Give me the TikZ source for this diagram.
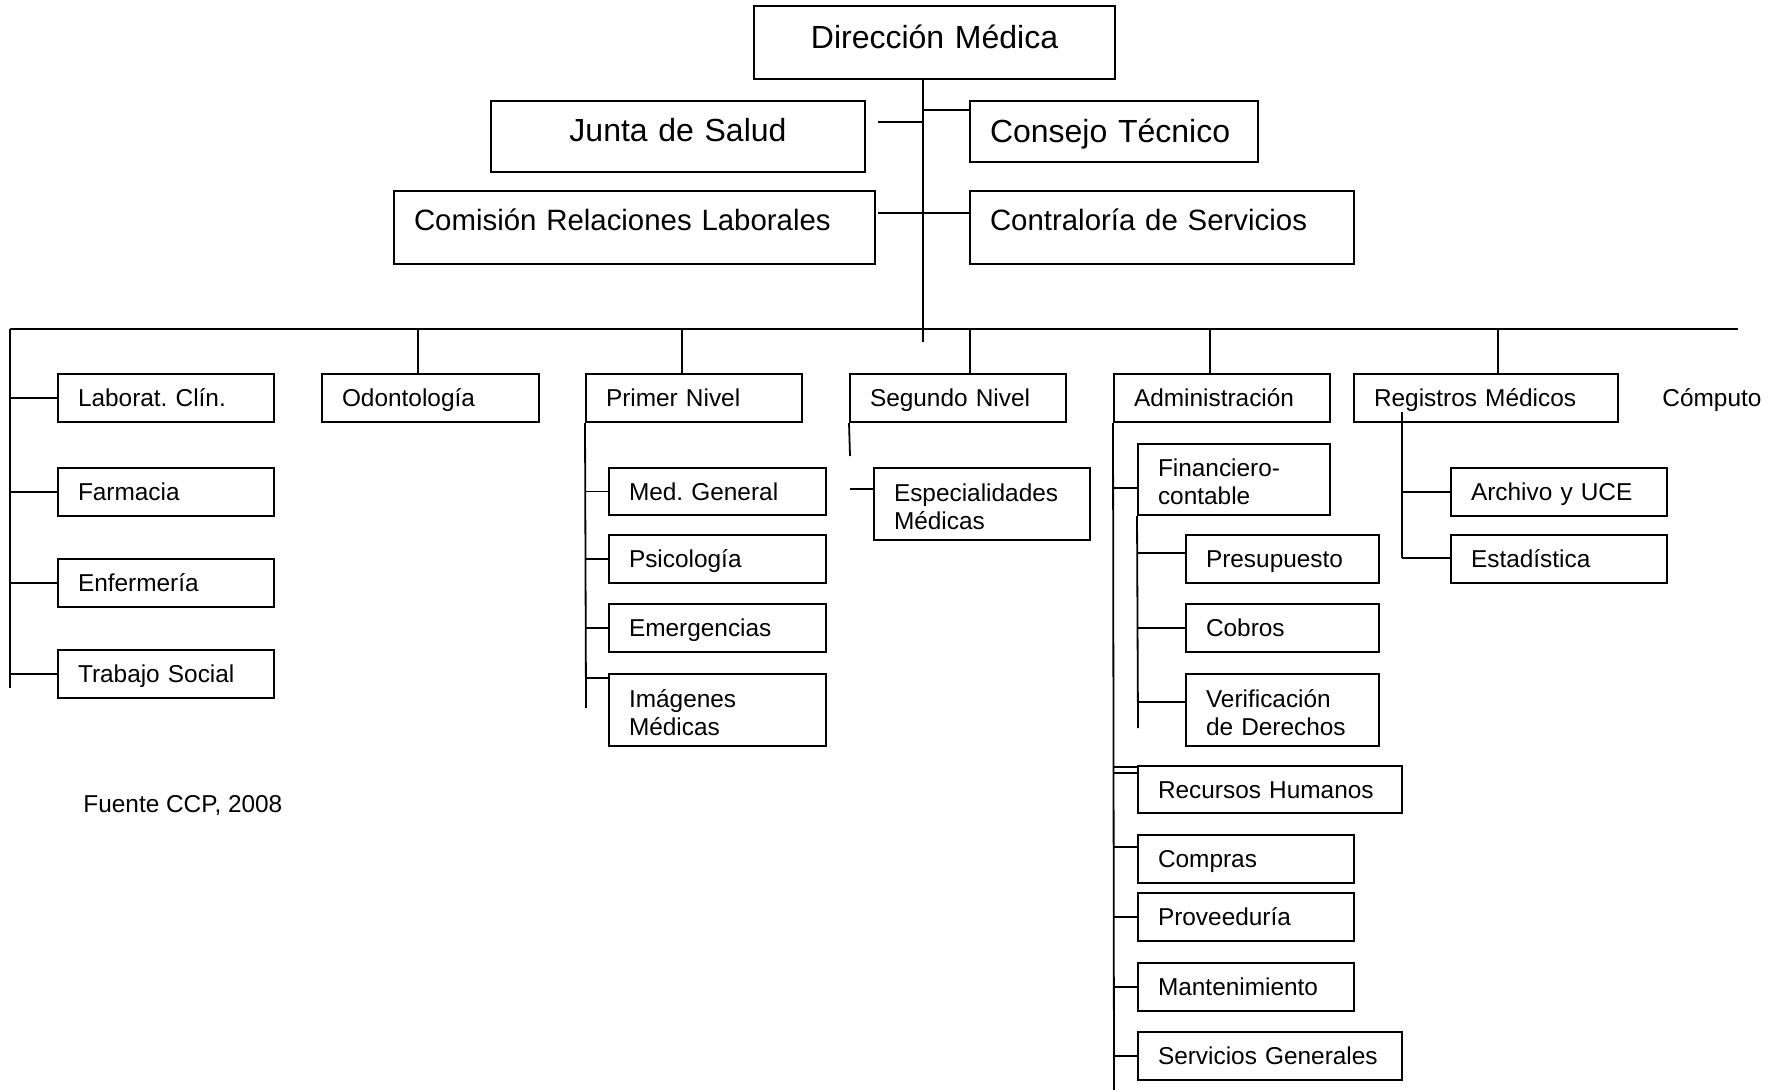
\documentclass[tikz,border=0pt]{standalone}
\usepackage{fontspec}
\setmainfont{Liberation Sans}
\usetikzlibrary{calc}
\frenchspacing
\newcommand{\sth}[2]{\rule[-#2]{0pt}{\dimexpr #1+#2\relax}}
\newcommand{\stdst}{\sth{12.3pt}{3.5pt}}
\newcommand{\firstst}{\sth{14.5pt}{3.5pt}}
\newcommand{\lastst}{\sth{0pt}{3.5pt}}
\tikzset{
  bx/.style={draw, line width=1pt, inner xsep=10pt, inner ysep=0pt, align=left,
    font=\fontsize{12.2}{14}\selectfont},
  ln/.style={line width=0.9pt},
  plain/.style={inner sep=0pt, font=\fontsize{12.2}{14}\selectfont}
}
\newcommand{\bx}[7][]{%
  \pgfmathsetmacro\bw{(#5-#3)/2}%
  \pgfmathsetmacro\bh{(#6-#4)/2}%
  \pgfmathsetmacro\tw{(#5-#3)/2-20}%
  \node[bx, minimum width=\bw pt, minimum height=\bh pt, text width=\tw pt, #1]
    (#2) at ({(#3+#5)/2},{(#4+#6)/2}) {#7};}
\begin{document}
\begin{tikzpicture}[x=0.5pt,y=-0.5pt]
\fill[white] (0,0) rectangle (1775,1090);
\useasboundingbox (0,0) rectangle (1775,1090);
% top boxes
\bx[align=center, font=\fontsize{16}{19}\selectfont]{dir}{754}{6}{1115}{79}{\sth{16pt}{9.5pt}Dirección Médica}
\bx[align=center, font=\fontsize{16}{19}\selectfont]{jun}{491}{101}{865}{172}{\sth{16pt}{11pt}Junta de Salud}
\bx[font=\fontsize{16}{19}\selectfont]{cons}{970}{101}{1258}{162}{\sth{16pt}{4.5pt}Consejo Técnico}
\bx[font=\fontsize{14.7}{17}\selectfont]{com}{394}{191}{875}{264}{\sth{16pt}{13.4pt}Comisión Relaciones Laborales}
\bx[font=\fontsize{14.7}{17}\selectfont]{contra}{970}{191}{1354}{264}{\sth{16pt}{13.4pt}Contraloría de Servicios}
% level 2
\bx{lab}{58}{374}{274}{422}{\stdst Laborat. Clín.}
\bx{odon}{322}{374}{539}{422}{\stdst Odontología}
\bx{prim}{586}{374}{802}{422}{\stdst Primer Nivel}
\bx{seg}{850}{374}{1066}{422}{\stdst Segundo Nivel}
\bx{adm}{1114}{374}{1330}{422}{\stdst Administración}
\bx{reg}{1354}{374}{1618}{422}{\stdst Registros Médicos}
\node[plain, anchor=base west] (comput) at (1662,407) {Cómputo};
% left column
\bx{farm}{58}{468}{274}{516}{\stdst Farmacia}
\bx{enf}{58}{559}{274}{607}{\stdst Enfermería}
\bx{ts}{58}{650}{274}{698}{\stdst Trabajo Social}
% primer nivel
\bx{mg}{609}{468}{826}{515}{\stdst Med. General}
\bx{psi}{609}{535}{826}{583}{\stdst Psicología}
\bx{emer}{609}{604}{826}{652}{\stdst Emergencias}
\bx{img}{609}{674}{826}{746}{\firstst Imágenes\\Médicas\lastst}
% segundo nivel
\bx{esp}{874}{468}{1090}{540}{\firstst Especialidades\\Médicas\lastst}
% administracion
\bx{fin}{1138}{444}{1330}{515}{\firstst Financiero-\\contable\lastst}
\bx{pre}{1186}{535}{1379}{583}{\stdst Presupuesto}
\bx{cob}{1186}{604}{1379}{652}{\stdst Cobros}
\bx{ver}{1186}{674}{1379}{746}{\firstst Verificación\\de Derechos\lastst}
\bx{rh}{1138}{766}{1402}{813}{\stdst Recursos Humanos}
\bx{comp}{1138}{835}{1354}{883}{\stdst Compras}
\bx{prov}{1138}{893}{1354}{941}{\stdst Proveeduría}
\bx{mant}{1138}{963}{1354}{1011}{\stdst Mantenimiento}
\bx{sg}{1138}{1032}{1402}{1080}{\stdst Servicios Generales}
% registros
\bx{arch}{1451}{468}{1667}{516}{\stdst Archivo y UCE}
\bx{est}{1451}{535}{1667}{583}{\stdst Estadística}
% source
\node[plain, anchor=base west] (fuente) at (83,812) {Fuente CCP, 2008};

% ---- connectors ----
\coordinate (tTop) at (923,79);
\coordinate (tBot) at (923,342);
\draw[ln] (tTop) -- (tBot);
\coordinate (tCons) at (923,110);
\draw[ln] (tCons) -- (tCons -| cons.west);
\coordinate (tJun) at (923,122);
\draw[ln] ([xshift=6pt]jun.east |- tJun) -- (tJun);
\coordinate (tCom) at (923,213);
\draw[ln] ([xshift=1pt]com.east |- tCom) -- (tCom -| contra.west);
% bus
\coordinate (bL) at (10,329);
\coordinate (bR) at (1738,329);
\draw[ln] (bL) -- (bR);
\coordinate (lB) at (10,688);
\draw[ln] (bL) -- (lB);
\foreach \n in {lab,farm,enf,ts} \draw[ln] (\n.west) -- (\n.west -| bL);
% drops
\coordinate (dOd) at (418,329);
\coordinate (dPr) at (682,329);
\coordinate (dSe) at (970,329);
\coordinate (dAd) at (1210,329);
\coordinate (dRe) at (1498,329);
\draw[ln] (dOd) -- (dOd |- odon.north);
\draw[ln] (dPr) -- (dPr |- prim.north);
\draw[ln] (dSe) -- (dSe |- seg.north);
\draw[ln] (dAd) -- (dAd |- adm.north);
\draw[ln] (dRe) -- (dRe |- reg.north);
% primer nivel
\coordinate (pB) at (586,708);
\draw[ln] (prim.south west) -- (pB);
\foreach \n in {mg,psi,emer} \draw[ln] (\n.west) -- (\n.west -| pB);
\draw[ln] ([yshift=-2.5pt]img.north west) -- ([yshift=-2.5pt]img.north west -| pB);
% segundo nivel
\coordinate (sB) at (850,456);
\draw[ln] (seg.south west) -- (sB);
\coordinate (sH) at (850,489);
\draw[ln] (sH) -- (sH -| esp.west);
% administracion
\coordinate (aB) at (1114,1090);
\draw[ln] (adm.south west) -- (aB);
\draw[ln] ([yshift=-22.5pt]fin.north west) -- ([yshift=-22.5pt]fin.north west -| aB);
\coordinate (fB) at (1138,728);
\draw[ln] (fin.south west) -- (fB);
\draw[ln] ([yshift=-9.5pt]pre.north west) -- ([yshift=-9.5pt]pre.north west -| fB);
\draw[ln] (cob.west) -- (cob.west -| fB);
\draw[ln] ([yshift=-14.5pt]ver.north west) -- ([yshift=-14.5pt]ver.north west -| fB);
\draw[ln] ([yshift=-1pt]rh.north west) -- ([yshift=-1pt]rh.north west -| aB);
\draw[ln] ([yshift=-4pt]rh.north west) -- ([yshift=-4pt]rh.north west -| aB);
\draw[ln] ([yshift=-6.5pt]comp.north west) -- ([yshift=-6.5pt]comp.north west -| aB);
\foreach \n in {prov,mant,sg} \draw[ln] (\n.west) -- (\n.west -| aB);
% registros
\coordinate (rT) at (1402,412);
\coordinate (rB) at (1402,558);
\draw[ln] (rT) -- (rB);
\draw[ln] (arch.west) -- (arch.west -| rT);
\draw[ln] (rB) -- (rB -| est.west);
\end{tikzpicture}
\end{document}
